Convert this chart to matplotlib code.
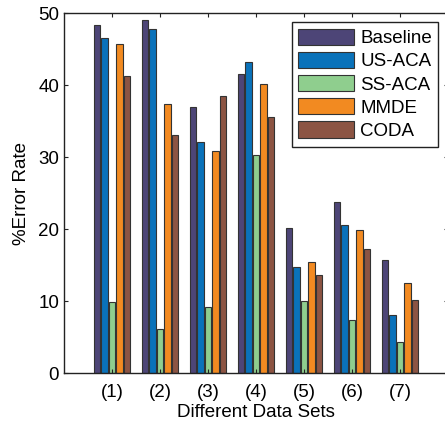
import numpy as np
import matplotlib
matplotlib.use("Agg")
import matplotlib.pyplot as plt

plt.rcParams["font.family"] = ["Liberation Sans", "DejaVu Sans"]

# データ
groups = ["(1)", "(2)", "(3)", "(4)", "(5)", "(6)", "(7)"]
methods = ["Baseline", "US-ACA", "SS-ACA", "MMDE", "CODA"]
baseline = [48.3, 49.1, 36.9, 41.5, 20.1, 23.8, 15.7]
us_aca = [46.5, 47.8, 32.1, 43.2, 14.7, 20.5, 8.1]
ss_aca = [9.9, 6.1, 9.2, 30.3, 10.0, 7.3, 4.3]
mmde = [45.7, 37.4, 30.8, 40.1, 15.4, 19.9, 12.5]
coda = [41.2, 33.1, 38.5, 35.5, 13.6, 17.2, 10.2]
colors = ["#4d4577", "#0a72ba", "#8fce8e", "#f28a21", "#8c5443"]

series = [baseline, us_aca, ss_aca, mmde, coda]

fig = plt.figure(figsize=(4.45, 4.21), dpi=100)
ax = fig.add_axes([0.1438, 0.114, 0.863, 0.855])

x = np.arange(1, len(groups) + 1)
step = 0.155
for i, (vals, name, c) in enumerate(zip(series, methods, colors)):
    ax.bar(x + (i - 2) * step, vals, width=0.13, color=c,
           edgecolor="#333333", linewidth=0.8, label=name)

ax.set_xlim(0, 8)
ax.set_ylim(0, 50)
ax.set_xticks(x)
ax.set_xticklabels(groups)
ax.set_yticks(range(0, 51, 10))
ax.tick_params(direction="in", top=True, right=True, labelsize=13.5,
               length=3, color="#222222")
ax.tick_params(axis="x", pad=8)
for s in ax.spines.values():
    s.set_linewidth(1.0)
    s.set_color("#222222")

ax.set_xlabel("Different Data Sets", fontsize=13.5, labelpad=2)
ax.set_ylabel("%Error Rate", fontsize=13.5, labelpad=6)

leg = ax.legend(loc="upper right", bbox_to_anchor=(0.975, 0.975),
                fontsize=13.5, fancybox=False, framealpha=1,
                edgecolor="#222222", handlelength=3.0, handleheight=0.95,
                handletextpad=0.3, labelspacing=0.25, borderpad=0.35,
                borderaxespad=0)
leg.get_frame().set_linewidth(1.0)

fig.savefig("out.png", dpi=100)
